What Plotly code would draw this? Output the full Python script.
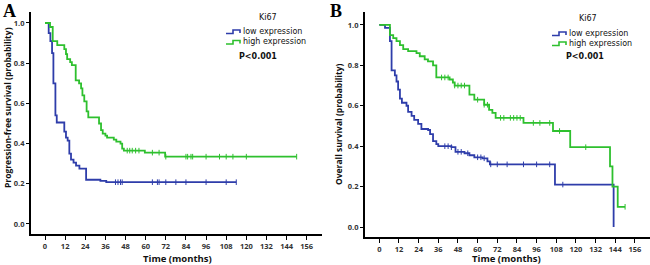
import numpy as np
import plotly.graph_objects as go

# ---------------- data (months, survival probability) ----------------
group_names = ["low expression", "high expression"]
legend_title = "Ki67"
p_text = "P<0.001"
x_title = "Time (months)"
y_titles = ["Progression-free survival (probability)", "Overall survival (probability)"]
x_ticks = [0, 12, 24, 36, 48, 60, 72, 84, 96, 108, 120, 132, 144, 156]
y_ticks = [0.0, 0.2, 0.4, 0.6, 0.8, 1.0]

# Panel A: progression-free survival
pfs_low_t = [0, 2.2, 3.2, 4.2, 5.0, 6.2, 7.0, 11.5, 12.5, 13.5, 14.5, 15.5, 17, 18.5, 20.5, 24.5, 33, 36.5]
pfs_low_s = [1.0, 0.95, 0.91, 0.85, 0.70, 0.54, 0.505, 0.46, 0.43, 0.415, 0.35, 0.32, 0.305, 0.29, 0.275, 0.22, 0.215, 0.208]
pfs_low_end = 114
pfs_low_cens = [42, 43.5, 45, 46, 64, 67, 68, 72, 78, 84, 96, 108, 114]

pfs_high_t = [0, 3, 4.6, 7.3, 11.5, 12.5, 13.2, 15, 16, 18.3, 20.3, 21.5, 22.3, 23.4, 24.8, 25.8, 32.2, 33.4, 34.4, 36, 37, 41, 42.5, 45, 46, 47, 59.5, 71.6]
pfs_high_s = [1.0, 0.98, 0.91, 0.89, 0.87, 0.845, 0.82, 0.805, 0.79, 0.715, 0.70, 0.675, 0.64, 0.61, 0.56, 0.53, 0.50, 0.467, 0.45, 0.44, 0.43, 0.42, 0.41, 0.40, 0.375, 0.365, 0.355, 0.335]
pfs_high_end = 150
pfs_high_cens = [49, 50.5, 52, 54, 56, 64, 68, 72, 84, 85, 87, 88, 96, 104, 108, 112, 120, 150]

# Panel B: overall survival
os_low_t = [0, 3.5, 6.5, 7.5, 9.5, 10.5, 11.5, 12.6, 13.8, 16.6, 17.6, 19.7, 21.3, 23.7, 25.7, 29.8, 31, 32.8, 34.8, 36, 44, 46.5, 52, 55, 58, 63, 66, 67.5, 107.2, 143]
os_low_s = [1.0, 0.985, 0.92, 0.775, 0.75, 0.72, 0.68, 0.635, 0.615, 0.60, 0.57, 0.55, 0.53, 0.51, 0.485, 0.48, 0.46, 0.425, 0.41, 0.40, 0.395, 0.372, 0.365, 0.355, 0.345, 0.34, 0.325, 0.31, 0.21, 0.0]
os_low_end = 143
os_low_cens = [40, 42, 44, 48, 50, 54, 60, 62, 64, 68, 72, 78, 88, 96, 104, 112]

os_high_t = [0, 6.5, 8.5, 10.5, 12.6, 14.6, 17.6, 22.7, 24.7, 27.7, 29.7, 32.8, 34.8, 42.9, 44.9, 46, 55, 58, 64, 67, 69, 71, 88, 106, 116.5, 140.8, 142.3, 145.5]
os_high_s = [1.0, 0.95, 0.935, 0.92, 0.90, 0.88, 0.87, 0.86, 0.845, 0.83, 0.82, 0.80, 0.74, 0.73, 0.715, 0.70, 0.655, 0.63, 0.605, 0.58, 0.565, 0.54, 0.515, 0.475, 0.395, 0.30, 0.20, 0.10]
os_high_end = 150
os_high_cens = [38, 40, 42, 46, 48, 50, 52, 60, 64, 66, 74, 76, 80, 82, 84, 86, 94, 98, 104, 110, 126, 150]

colors = ["#2E3DAA", "#2EC02E"]

# ---------------- figure ----------------
fig = go.Figure()

def add_km(t, s, t_end, cens, color, xa, ya):
    xs = list(t) + [t_end]
    ys = list(s) + [s[-1]]
    fig.add_trace(go.Scatter(x=xs, y=ys, mode="lines", line=dict(color=color, width=1.8, shape="hv"),
                             xaxis=xa, yaxis=ya, showlegend=False, hoverinfo="skip"))
    ta = np.array(t)
    idx = np.searchsorted(ta, np.array(cens), side="right") - 1
    cy = [s[i] for i in idx]
    fig.add_trace(go.Scatter(x=cens, y=cy, mode="markers",
                             marker=dict(symbol="line-ns", size=4, line=dict(color=color, width=1)),
                             xaxis=xa, yaxis=ya, showlegend=False, hoverinfo="skip"))

add_km(pfs_low_t, pfs_low_s, pfs_low_end, pfs_low_cens, colors[0], "x", "y")
add_km(pfs_high_t, pfs_high_s, pfs_high_end, pfs_high_cens, colors[1], "x", "y")
add_km(os_low_t, os_low_s, os_low_end, os_low_cens, colors[0], "x2", "y2")
add_km(os_high_t, os_high_s, os_high_end, os_high_cens, colors[1], "x2", "y2")

W, H = 650, 265
def fx(p): return p / W
def fy(p): return 1 - p / H

tickfont = dict(family="Open Sans", size=7.5, color="#333333", weight="bold")

common_x = dict(tickmode="array", tickvals=x_ticks, ticktext=[str(v) for v in x_ticks],
                showline=True, linecolor="black", linewidth=2, ticks="outside", ticklen=4,
                tickwidth=1, tickcolor="black", showgrid=False, zeroline=False, tickfont=tickfont,
                automargin=False)
common_y = dict(tickmode="array", tickvals=y_ticks, ticktext=[f"{v:.1f}" for v in y_ticks],
                showline=True, linecolor="black", linewidth=2, ticks="outside", ticklen=3,
                tickwidth=1, tickcolor="black", showgrid=False, zeroline=False, tickfont=tickfont,
                automargin=False)

fig.update_layout(
    width=W, height=H, margin=dict(l=0, r=0, t=0, b=0, autoexpand=False),
    paper_bgcolor="white", plot_bgcolor="white",
    xaxis=dict(common_x, domain=[fx(31), fx(322)], range=[-8.35, 165.1], anchor="y"),
    yaxis=dict(common_y, domain=[fy(234), fy(12)], range=[-0.0498, 1.0547], anchor="x"),
    xaxis2=dict(common_x, domain=[fx(365), 1.0], range=[-8.72, 165.2], anchor="y2"),
    yaxis2=dict(common_y, domain=[fy(236.5), fy(12)], range=[-0.047, 1.064], anchor="x2"),
)

ann = []
titlefont = dict(family="Open Sans", size=8.5, color="#111111", weight="bold")
xtitlefont = dict(family="Open Sans", size=9.5, color="#111111", weight="bold")
# axis titles
ann.append(dict(text=y_titles[0], x=fx(7), y=fy(108), xref="paper", yref="paper", showarrow=False,
                textangle=-90, xanchor="center", yanchor="middle", font=titlefont))
ann.append(dict(text=y_titles[1], x=fx(338), y=fy(125), xref="paper", yref="paper", showarrow=False,
                textangle=-90, xanchor="center", yanchor="middle", font=titlefont))
ann.append(dict(text=x_title, x=fx(177), y=fy(258), xref="paper", yref="paper", showarrow=False,
                xanchor="center", yanchor="middle", font=xtitlefont))
ann.append(dict(text=x_title, x=fx(506), y=fy(258), xref="paper", yref="paper", showarrow=False,
                xanchor="center", yanchor="middle", font=xtitlefont))
# panel letters
for txt, x, y in [("A", 9, 11), ("B", 336, 11)]:
    ann.append(dict(text=f"<b>{txt}</b>", x=fx(x), y=fy(y), xref="paper", yref="paper", showarrow=False,
                    xanchor="center", yanchor="middle",
                    font=dict(family="Liberation Serif", size=18, color="black")))
legfont = dict(family="DejaVu Sans", size=8, color="#111111")
shapes = []
for (cx_title, y_title, x_text, y_low, y_high, x_glyph, cx_p, y_p) in [
        (268, 18, 241, 31.5, 42, 226, 258, 57),
        (588, 19, 567, 33.5, 43.5, 552, 585, 57)]:
    ann.append(dict(text=legend_title, x=fx(cx_title), y=fy(y_title), xref="paper", yref="paper",
                    showarrow=False, xanchor="center", yanchor="middle", font=legfont))
    for name, yy, col in [(group_names[0], y_low, colors[0]), (group_names[1], y_high, colors[1])]:
        ann.append(dict(text=name, x=fx(x_text), y=fy(yy), xref="paper", yref="paper",
                        showarrow=False, xanchor="left", yanchor="middle", font=legfont))
        x0 = x_glyph
        path = (f"M {fx(x0)},{fy(yy+2)} L {fx(x0+7)},{fy(yy+2)} L {fx(x0+7)},{fy(yy-1.5)} "
                f"L {fx(x0+14)},{fy(yy-1.5)} L {fx(x0+14)},{fy(yy+1.5)}")
        shapes.append(dict(type="path", path=path, xref="paper", yref="paper",
                           line=dict(color=col, width=1.6)))
    ann.append(dict(text=f"<b>{p_text}</b>", x=fx(cx_p), y=fy(y_p), xref="paper", yref="paper",
                    showarrow=False, xanchor="center", yanchor="middle", font=legfont))

fig.update_layout(annotations=ann, shapes=shapes)
fig.write_html("out.html", config={"displayModeBar": False},
               post_script="document.body.style.margin='0';document.body.style.overflow='hidden';")
